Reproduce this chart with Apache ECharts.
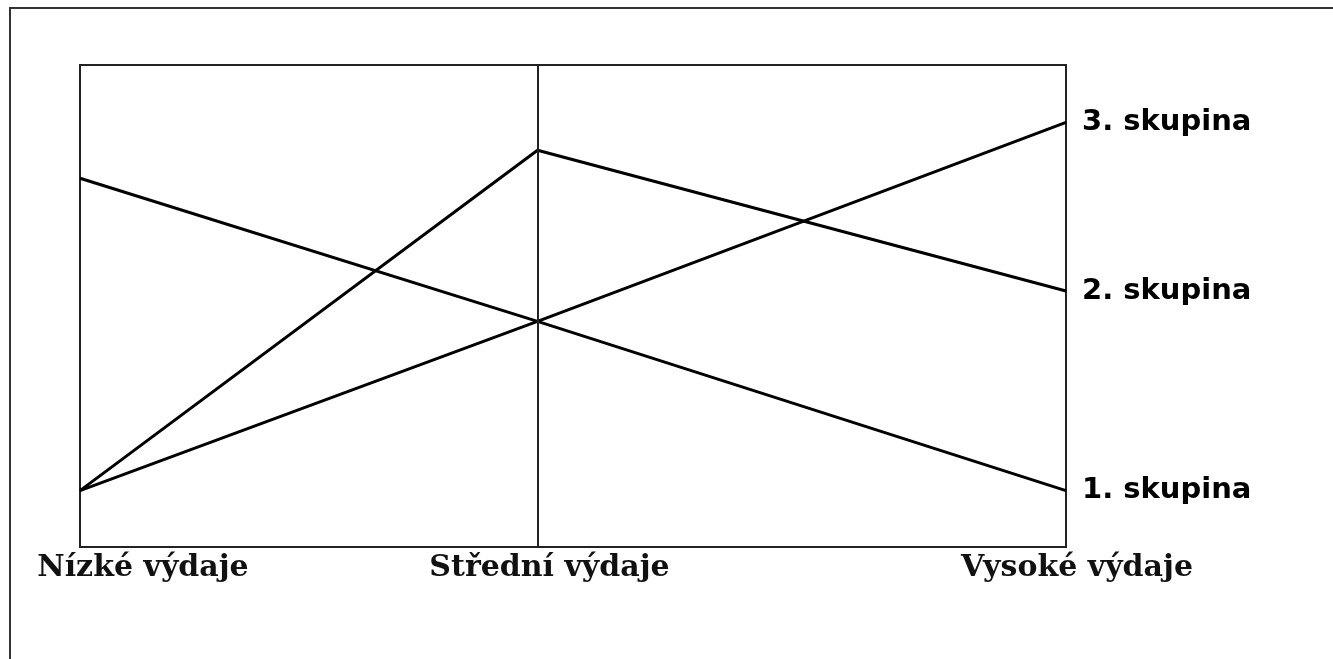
<!DOCTYPE html>
<html>
<head>
<meta charset="utf-8">
<script src="https://cdn.jsdelivr.net/npm/echarts@6/dist/echarts.min.js"></script>
<style>
  html, body { margin: 0; padding: 0; background: #fff; }
  #chart { width: 1333px; height: 659px; }
</style>
</head>
<body>
<div id="chart"></div>
<script>
var categories = ['Nízké výdaje', 'Střední výdaje', 'Vysoké výdaje'];
// where each category sits along the x axis (0..1)
var categoryPos = [0, 0.464, 1];
var seriesNames = ['1. skupina', '2. skupina', '3. skupina'];
var group1 = [76.5, 46.8, 11.7];
var group2 = [11.7, 82.3, 53.1];
var group3 = [11.7, 46.8, 88.1];
var labelShift = [126, 24, 22];

function toPoints(values) {
  return values.map(function (v, i) { return [categoryPos[i], v]; });
}

function cal_option() {
  var lineStyle = { color: '#000', width: 3 };
  var endLabel = {
    show: true,
    formatter: '{a}',
    color: '#000',
    fontFamily: 'DejaVu Sans',
    fontWeight: 'bold',
    fontSize: 29,
    distance: 16
  };
  var rich = {};
  labelShift.forEach(function (p, i) {
    rich['c' + i] = {
      padding: [0, 0, 0, p],
      fontFamily: 'DejaVu Serif',
      fontWeight: 'bold',
      fontSize: 30,
      color: '#111'
    };
  });
  var option = {
    backgroundColor: '#fff',
    animation: false,
    graphic: [{
      type: 'rect',
      shape: { x: 10, y: 8, width: 1400, height: 700 },
      style: { fill: 'none', stroke: '#333', lineWidth: 2 },
      silent: true
    }],
    grid: {
      left: 80, top: 65, right: 267, bottom: 112,
      show: true, borderColor: '#222', borderWidth: 2,
      containLabel: false
    },
    xAxis: {
      type: 'value',
      min: 0, max: 1,
      axisLine: { show: false },
      axisTick: { show: false },
      splitLine: { show: false },
      axisLabel: {
        show: true,
        customValues: categoryPos,
        hideOverlap: false,
        showMinLabel: true,
        showMaxLabel: true,
        margin: 6,
        formatter: function (val) {
          var idx = categoryPos.indexOf(val);
          if (idx < 0) return '';
          return '{c' + idx + '|' + categories[idx] + '}';
        },
        rich: rich
      }
    },
    yAxis: {
      type: 'value',
      min: 0, max: 100,
      show: false,
      splitLine: { show: false }
    },
    series: [
      {
        name: seriesNames[0], type: 'line', data: toPoints(group1),
        symbol: 'none', lineStyle: lineStyle, itemStyle: { color: '#000' },
        endLabel: endLabel,
        markLine: {
          silent: true, symbol: 'none',
          label: { show: false },
          lineStyle: { color: '#222', width: 2, type: 'solid' },
          data: [[{ coord: [categoryPos[1], 0] }, { coord: [categoryPos[1], 100] }]]
        }
      },
      {
        name: seriesNames[1], type: 'line', data: toPoints(group2),
        symbol: 'none', lineStyle: lineStyle, itemStyle: { color: '#000' },
        endLabel: endLabel
      },
      {
        name: seriesNames[2], type: 'line', data: toPoints(group3),
        symbol: 'none', lineStyle: lineStyle, itemStyle: { color: '#000' },
        endLabel: endLabel
      }
    ]
  };
  return option;
}

var myChart = echarts.init(document.getElementById('chart'));
myChart.setOption(cal_option());
window.onresize = function () { myChart.resize(); };
</script>
</body>
</html>
